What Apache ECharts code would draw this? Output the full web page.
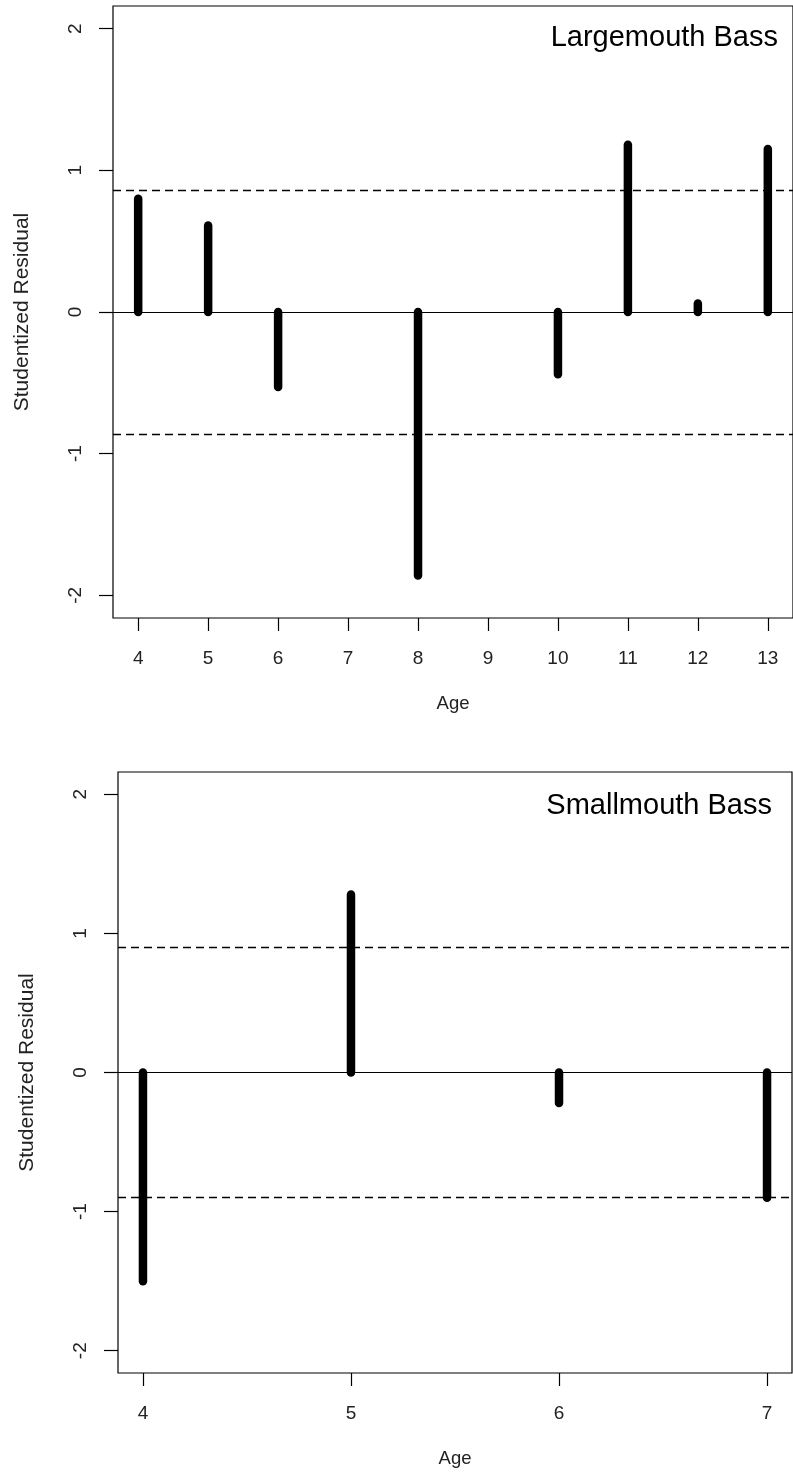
<!DOCTYPE html>
<html>
<head>
<meta charset="utf-8">
<script src="https://cdn.jsdelivr.net/npm/echarts@6/dist/echarts.min.js"></script>
<style>
  html, body { margin: 0; padding: 0; background: #fff; }
  #chart { width: 793px; height: 1477px; }
</style>
</head>
<body>
<div id="chart"></div>
<script>
// Studentized residuals by age, one panel per species
const lmAges = [4, 5, 6, 8, 10, 11, 12, 13];
const lmResid = [0.80, 0.61, -0.53, -1.86, -0.44, 1.18, 0.06, 1.15];
const lmCutoff = 0.865;
const lmTicks = [4, 5, 6, 7, 8, 9, 10, 11, 12, 13];

const smAges = [4, 5, 6, 7];
const smResid = [-1.50, 1.28, -0.22, -0.90];
const smCutoff = 0.90;
const smTicks = [4, 5, 6, 7];

const yTicks = [-2, -1, 0, 1, 2];
const panelTitles = ['Largemouth Bass', 'Smallmouth Bass'];
const xTitle = 'Age';
const yTitle = 'Studentized Residual';

const FONT = '"Liberation Sans", Arial, sans-serif';
const TXT = '#222';

function pairs(xs, ys) { return xs.map((x, i) => [x, ys[i]]); }

function xAxisFor(idx, min, max, ticks) {
  return {
    type: 'value', gridIndex: idx, min: min, max: max,
    name: xTitle, nameLocation: 'middle', nameGap: 76,
    nameTextStyle: { fontFamily: FONT, fontSize: 18.5, color: TXT },
    axisLine: { show: false, onZero: false },
    axisTick: { show: true, inside: false, length: 13, customValues: ticks,
                lineStyle: { color: '#000', width: 1.2 } },
    axisLabel: { show: true, customValues: ticks, margin: 31,
                 fontFamily: FONT, fontSize: 19, color: TXT },
    splitLine: { show: false }
  };
}

function yAxisFor(idx) {
  return {
    type: 'value', gridIndex: idx, min: -2.16, max: 2.16,
    name: yTitle, nameLocation: 'middle', nameGap: 80.5,
    nameTextStyle: { fontFamily: FONT, fontSize: 21, color: TXT },
    axisLine: { show: false, onZero: false },
    axisTick: { show: true, inside: false, length: 14, customValues: yTicks,
                lineStyle: { color: '#000', width: 1.2 } },
    axisLabel: { show: true, customValues: yTicks, rotate: 90, margin: 28,
                 fontFamily: FONT, fontSize: 19, color: TXT },
    splitLine: { show: false }
  };
}

// Each residual is a thick vertical stroke from zero to its value
function renderSpike(params, api) {
  const x = api.value(0), y = api.value(1);
  const p0 = api.coord([x, 0]);
  const p1 = api.coord([x, y]);
  return {
    type: 'line',
    shape: { x1: p0[0], y1: p0[1], x2: p1[0], y2: p1[1] },
    style: { stroke: '#000', lineWidth: 8.5, lineCap: 'round' }
  };
}

function spikeSeries(idx, data, cutoff) {
  return {
    type: 'custom', xAxisIndex: idx, yAxisIndex: idx,
    data: data, renderItem: renderSpike, silent: true,
    markLine: {
      silent: true, symbol: ['none', 'none'], label: { show: false },
      data: [
        { yAxis: 0, lineStyle: { type: 'solid', color: '#000', width: 1.2 } },
        { yAxis: cutoff, lineStyle: { type: [8, 5], color: '#000', width: 1.4 } },
        { yAxis: -cutoff, lineStyle: { type: [8, 5], color: '#000', width: 1.4 } }
      ]
    }
  };
}

const chart = echarts.init(document.getElementById('chart'), null, { renderer: 'canvas' });
chart.setOption({
  backgroundColor: '#fff',
  animation: false,
  grid: [
    { left: 113, right: -9, top: 6, bottom: 859, show: true,
      borderColor: '#000', borderWidth: 1.2, backgroundColor: 'transparent' },
    { left: 118, right: 1, top: 772, bottom: 104, show: true,
      borderColor: '#000', borderWidth: 1.2, backgroundColor: 'transparent' }
  ],
  xAxis: [xAxisFor(0, 3.64, 13.36, lmTicks), xAxisFor(1, 3.88, 7.12, smTicks)],
  yAxis: [yAxisFor(0), yAxisFor(1)],
  series: [
    spikeSeries(0, pairs(lmAges, lmResid), lmCutoff),
    spikeSeries(1, pairs(smAges, smResid), smCutoff)
  ],
  graphic: [
    { type: 'text', x: 778, y: 37.5, silent: true,
      style: { text: panelTitles[0], fontFamily: FONT, fontSize: 29, fill: '#000',
               align: 'right', verticalAlign: 'middle' } },
    { type: 'text', x: 772, y: 805.5, silent: true,
      style: { text: panelTitles[1], fontFamily: FONT, fontSize: 29, fill: '#000',
               align: 'right', verticalAlign: 'middle' } }
  ]
});
</script>
</body>
</html>
